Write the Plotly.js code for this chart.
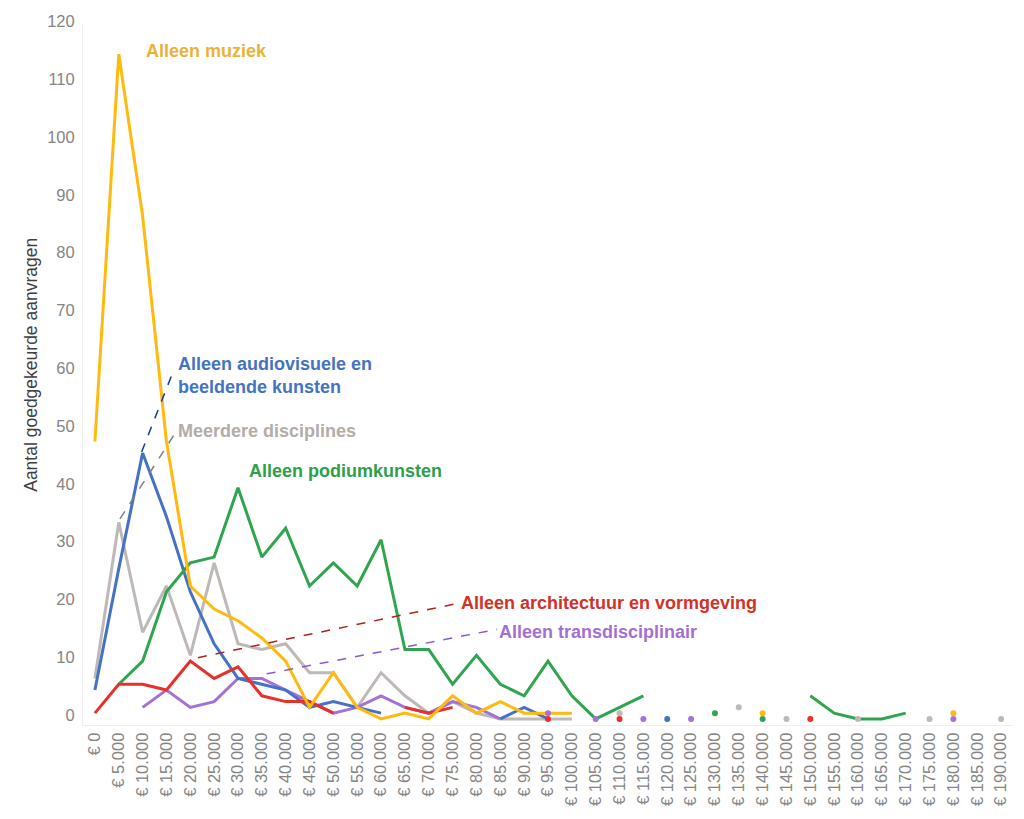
<!DOCTYPE html>
<html>
<head>
<meta charset="utf-8">
<script src="https://cdn.plot.ly/plotly-3.0.1.min.js"></script>
<style>
  html, body { margin: 0; padding: 0; background: #fff; }
  #chart { width: 1024px; height: 819px; }
</style>
</head>
<body>
<div id="chart"></div>
<script>
  const categories = [
    "€ 0", "€ 5.000", "€ 10.000", "€ 15.000", "€ 20.000", "€ 25.000", "€ 30.000", "€ 35.000",
    "€ 40.000", "€ 45.000", "€ 50.000", "€ 55.000", "€ 60.000", "€ 65.000", "€ 70.000", "€ 75.000",
    "€ 80.000", "€ 85.000", "€ 90.000", "€ 95.000", "€ 100.000", "€ 105.000", "€ 110.000", "€ 115.000",
    "€ 120.000", "€ 125.000", "€ 130.000", "€ 135.000", "€ 140.000", "€ 145.000", "€ 150.000", "€ 155.000",
    "€ 160.000", "€ 165.000", "€ 170.000", "€ 175.000", "€ 180.000", "€ 185.000", "€ 190.000",
  ];

  // counts per bucket, null = no data for that bucket
  const muziek = [48, 115, 87, 48, 23, 19, 17, 14, 10, 2, 8, 2, 0, 1, 0, 4, 1, 3, 1, 1, 1,
    null, null, null, null, null, null, null, 1, null, null, null, null, null, null, null, 1, null, null];
  const audiovisueel = [5, 26, 46, 35, 22, 13, 7, 6, 5, 2, 3, 2, 1, null, null, null, null, 0, 2, 0, null,
    null, null, null, 0, null, null, null, null, null, null, null, null, null, null, null, null, null, null];
  const meerdere = [7, 34, 15, 23, 11, 27, 13, 12, 13, 8, 8, 2, 8, 4, 1, 3, 1, 0, 0, 0, 0,
    null, 1, null, null, null, null, 2, null, 0, null, null, 0, null, null, 0, null, null, 0];
  const podium = [null, 6, 10, 22, 27, 28, 40, 28, 33, 23, 27, 23, 31, 12, 12, 6, 11, 6, 4, 10, 4,
    0, 2, 4, null, null, 1, null, 0, null, 4, 1, 0, 0, 1, null, null, null, null];
  const architectuur = [1, 6, 6, 5, 10, 7, 9, 4, 3, 3, 1, null, null, 2, 1, 2, null, null, null, 0, null,
    null, 0, null, null, null, null, null, null, null, 0, null, null, null, null, null, null, null, null];
  const transdisciplinair = [null, null, 2, 5, 2, 3, 7, 7, 5, 3, 1, 2, 4, 2, 1, 3, 2, 0, null, 1, null,
    0, null, 0, null, 0, null, null, null, null, null, null, null, null, null, null, 0, null, null];

  const series = [
    { name: "Meerdere disciplines", values: meerdere, color: "#BEB9B6" },
    { name: "Alleen transdisciplinair", values: transdisciplinair, color: "#A571D6" },
    { name: "Alleen audiovisuele en beeldende kunsten", values: audiovisueel, color: "#4472C4" },
    { name: "Alleen podiumkunsten", values: podium, color: "#30A550" },
    { name: "Alleen architectuur en vormgeving", values: architectuur, color: "#E8302A" },
    { name: "Alleen muziek", values: muziek, color: "#FFBA10" },
  ];

  // points with no neighbours are not visible as a line, show them as dots
  function isolated(values) {
    return values.map((v, i) => {
      if (v === null) return null;
      const prev = i > 0 ? values[i - 1] : null;
      const next = i < values.length - 1 ? values[i + 1] : null;
      return prev === null && next === null ? v : null;
    });
  }

  const traces = [];
  series.forEach((s) => {
    traces.push({
      x: categories, y: s.values, type: "scatter", mode: "lines", name: s.name,
      line: { color: s.color, width: 3 }, connectgaps: false, hoverinfo: "x+y",
    });
  });
  series.forEach((s) => {
    traces.push({
      x: categories, y: isolated(s.values), type: "scatter", mode: "markers", name: s.name,
      marker: { color: s.color, size: 6 }, hoverinfo: "x+y", showlegend: false,
    });
  });

  const labelFont = "Liberation Sans, Arial, sans-serif";
  function label(text, x, y, color) {
    return {
      text: "<b>" + text + "</b>", x, y, xref: "x", yref: "y", xanchor: "left", yanchor: "middle",
      showarrow: false, align: "left", font: { family: labelFont, size: 18, color },
    };
  }
  function leader(x0, y0, x1, y1, color) {
    return { type: "line", xref: "x", yref: "y", x0, y0, x1, y1, line: { color, width: 1.5, dash: "dash" } };
  }

  const layout = {
    width: 1024,
    height: 819,
    margin: { l: 83, r: 11, t: 23, b: 94 },
    paper_bgcolor: "#fff",
    plot_bgcolor: "#fff",
    showlegend: false,
    font: { family: labelFont, color: "#858585", size: 16.5 },
    xaxis: {
      type: "category", range: [-0.5, 38.5], tickangle: -90, showgrid: false, zeroline: false,
      showline: true, linecolor: "#EFEFEF", linewidth: 1, ticks: "", tickfont: { size: 16.5, color: "#858585" },
    },
    yaxis: {
      range: [-1.05, 120.4], tickvals: [0, 10, 20, 30, 40, 50, 60, 70, 80, 90, 100, 110, 120],
      showgrid: false, zeroline: false, showline: true, linecolor: "#F0F0F0", linewidth: 1, ticks: "",
      ticklabelshift: -4, ticklabelstandoff: 4, tickfont: { size: 16.5, color: "#858585" },
    },
    annotations: [
      {
        text: "Aantal goedgekeurde aanvragen", xref: "paper", yref: "paper", x: -0.056, y: 0.513,
        xanchor: "center", yanchor: "middle", textangle: -90, showarrow: false,
        font: { family: labelFont, size: 17.5, color: "#404040" },
      },
      label("Alleen muziek", 2.06, 115.6, "#E9B33A"),
      label("Alleen audiovisuele en<br>beeldende kunsten", 3.4, 59.4, "#4472C4"),
      label("Meerdere disciplines", 3.4, 49.9, "#B3ADA9"),
      label("Alleen podiumkunsten", 6.38, 42.9, "#2E9F4A"),
      label("Alleen architectuur en vormgeving", 15.27, 20.0, "#D13228"),
      label("Alleen transdisciplinair", 16.86, 15.1, "#A36FD4"),
    ],
    shapes: [
      leader(1.96, 46.2, 3.28, 60.1, "#1F3A93"),
      leader(1.05, 34.6, 3.36, 49.4, "#7F7F7F"),
      leader(4.32, 10.6, 15.23, 20.0, "#A8261E"),
      leader(7.2, 7.8, 16.86, 15.5, "#8A5AD6"),
    ],
  };

  Plotly.newPlot("chart", traces, layout, { displayModeBar: false, staticPlot: true });
</script>
</body>
</html>
